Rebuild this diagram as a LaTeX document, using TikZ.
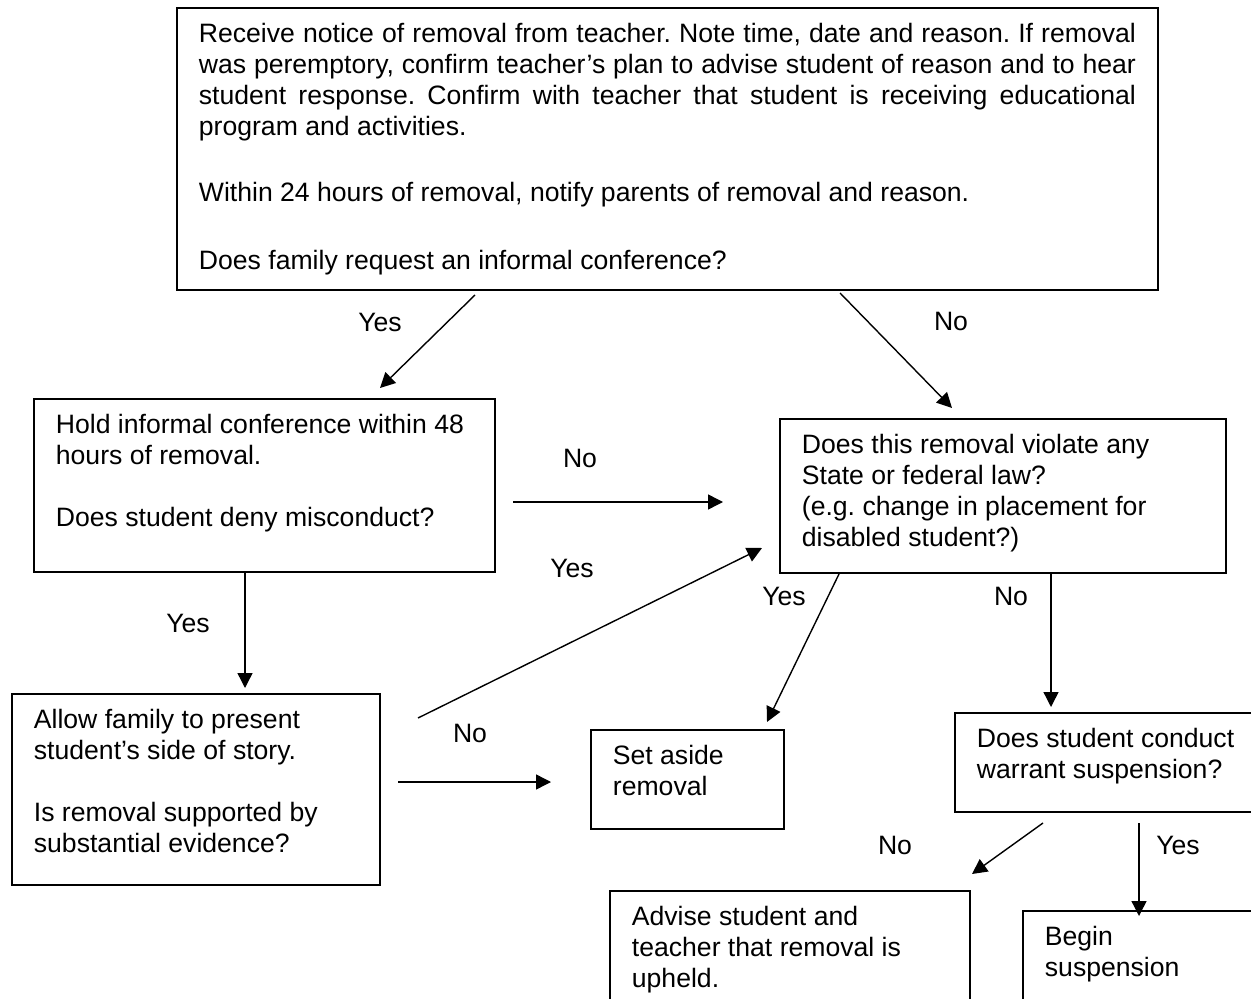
\documentclass[tikz,border=0pt]{standalone}
\usepackage{fontspec}
\setmainfont{Liberation Sans}
\usetikzlibrary{arrows.meta}
\frenchspacing
\newcommand{\boxtext}[3]{\begin{minipage}[t][#2][t]{#1}\raggedright\leftskip=11pt\vspace*{6.6pt}\strut#3\end{minipage}}
\begin{document}
\begin{tikzpicture}[x=0.5pt,y=-0.5pt,font=\fontsize{13.3pt}{15.5pt}\selectfont,
    flowbox/.style={draw,line width=0.9pt,inner sep=0pt,anchor=north west},
    flowarrow/.style={-{Triangle[length=7.5pt,width=7.5pt]},line width=0.7pt},
    answer/.style={inner sep=0pt}]
                \useasboundingbox (0,0) rectangle (1251,999);
                \clip (0,0) rectangle (1251,999);
                \node[flowbox] (notice) at (176,7) {\boxtext{490.5pt}{141pt}{%
                    \makebox[468.5pt][s]{Receive notice of removal from teacher. Note time, date and reason. If removal}\\
                    \makebox[468.5pt][s]{was peremptory, confirm teacher’s plan to advise student of reason and to hear}\\
                    \makebox[468.5pt][s]{student response. Confirm with teacher that student is receiving educational}\\
                    program and activities.\\[17.5pt]
                    Within 24 hours of removal, notify parents of removal and reason.\\[18.5pt]
                    Does family request an informal conference?}};
                \node[flowbox] (confer) at (33,398) {\boxtext{230.5pt}{86.5pt}{Hold informal conference within 48\\ hours of removal.\\[15.5pt] Does student deny misconduct?}};
                \node[flowbox] (law) at (779,418) {\boxtext{223pt}{77pt}{Does this removal violate any\\ State or federal law?\\ (e.g. change in placement for\\ disabled student?)}};
                \node[flowbox] (story) at (11,693) {\boxtext{184pt}{95.5pt}{Allow family to present\\ student’s side of story.\\[15.5pt] Is removal supported by\\ substantial evidence?}};
                \node[flowbox] (aside) at (590,729) {\boxtext{96.5pt}{49.5pt}{Set aside\\ removal}};
                \node[flowbox] (warrant) at (954,712) {\boxtext{160pt}{49.5pt}{Does student conduct\\ warrant suspension?}};
                \node[flowbox] (upheld) at (609,890) {\boxtext{180pt}{60pt}{Advise student and\\ teacher that removal is\\ upheld.}};
                \node[flowbox] (suspend) at (1022,910) {\boxtext{130pt}{50pt}{Begin\\ suspension}};
                \coordinate (noticeyes) at (475,295);
                \coordinate (conferin) at (380,388);
                \coordinate (noticeno) at (840,293);
                \coordinate (lawin) at (952,408);
                \coordinate (conferno) at (513,502);
                \coordinate (lawleft) at (723,502);
                \coordinate (conferyes) at (245,573);
                \coordinate (storyin) at (245,688);
                \coordinate (storyyes) at (418,718);
                \coordinate (lawcorner) at (762,548);
                \coordinate (storyno) at (398,782);
                \coordinate (asideleft) at (551,782);
                \coordinate (lawyes) at (839,574);
                \coordinate (asidein) at (767,722);
                \coordinate (lawno) at (1051,574);
                \coordinate (warrantin) at (1051,707);
                \coordinate (warrantno) at (1043,823);
                \coordinate (upheldin) at (972,874);
                \coordinate (warrantyes) at (1139,823);
                \coordinate (suspendin) at (1139,916);
                \draw[flowarrow] (noticeyes)--(conferin);
                \draw[flowarrow] (noticeno)--(lawin);
                \draw[flowarrow] (conferno)--(lawleft);
                \draw[flowarrow] (conferyes)--(storyin);
                \draw[flowarrow] (storyyes)--(lawcorner);
                \draw[flowarrow] (storyno)--(asideleft);
                \draw[flowarrow] (lawyes)--(asidein);
                \draw[flowarrow] (lawno)--(warrantin);
                \draw[flowarrow] (warrantno)--(upheldin);
                \draw[flowarrow] (warrantyes)--(suspendin);
                \node[answer] (yes1) at (380,322) {Yes};
                \node[answer] (no1) at (951,321) {No};
                \node[answer] (no2) at (580,458) {No};
                \node[answer] (yes2) at (188,623) {Yes};
                \node[answer] (yes3) at (572,568) {Yes};
                \node[answer] (no3) at (470,733) {No};
                \node[answer] (yes4) at (784,596) {Yes};
                \node[answer] (no4) at (1011,596) {No};
                \node[answer] (no5) at (895,845) {No};
                \node[answer] (yes5) at (1178,845) {Yes};
            \end{tikzpicture}
\end{document}
